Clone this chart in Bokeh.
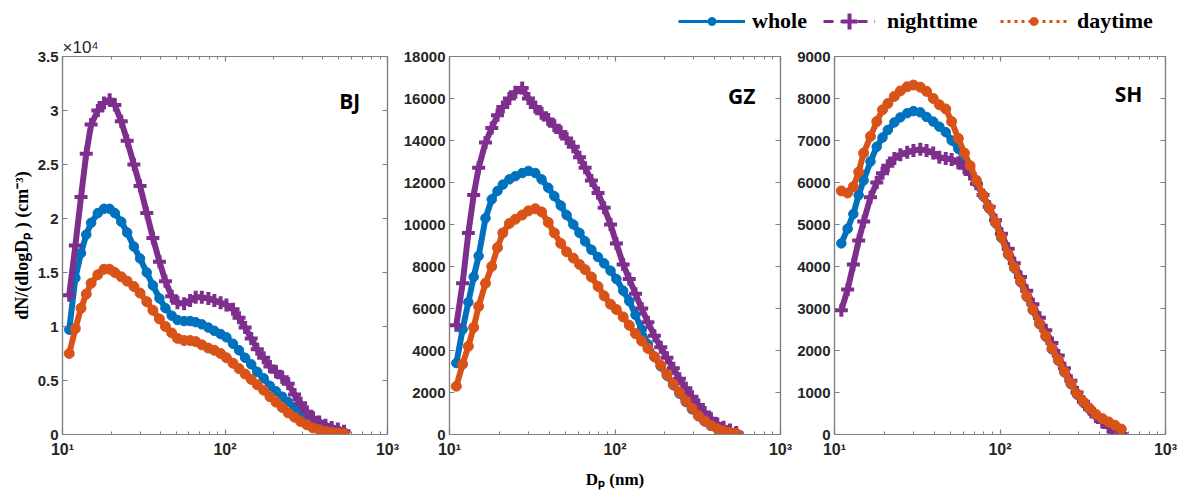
from bokeh.plotting import figure
from bokeh.layouts import column, row
from bokeh.models import (Range1d, FixedTicker, LinearAxis, LogAxis, Label,
                          Legend, LegendItem, ColumnDataSource, CustomJSTickFormatter)
from bokeh.embed import file_html
from bokeh.resources import INLINE

# ---------------- data ----------------
dp_nm = [11, 12, 13, 14, 15, 16.5, 18, 19.5, 21, 23, 25, 27.5, 30, 33, 36, 39.5, 43, 47, 51, 56,
         61, 66, 72, 79, 86, 94, 102, 112, 122, 133, 145, 158, 173, 189, 206, 225, 245, 268, 292, 319,
         348, 380, 415, 453, 495, 540]

# Beijing, in units of 1e4 cm^-3
bj_whole_e4 = [0.97, 1.45, 1.68, 1.85, 1.96, 2.05, 2.09, 2.09, 2.05, 1.97,
               1.87, 1.74, 1.63, 1.50, 1.38, 1.26, 1.17, 1.10, 1.06, 1.05,
               1.05, 1.04, 1.02, 0.99, 0.96, 0.93, 0.90, 0.84, 0.78, 0.71,
               0.65, 0.58, 0.52, 0.45, 0.40, 0.35, 0.30, 0.25, 0.21, 0.17,
               0.13, 0.10, 0.07, 0.05, 0.035, 0.02]
bj_night_e4 = [1.29, 1.75, 2.20, 2.60, 2.87, 3.00, 3.07, 3.10, 3.05, 2.90,
               2.72, 2.50, 2.30, 2.05, 1.82, 1.60, 1.42, 1.28, 1.22, 1.21,
               1.24, 1.27, 1.27, 1.26, 1.24, 1.22, 1.20, 1.16, 1.08, 0.99,
               0.89, 0.79, 0.71, 0.63, 0.58, 0.53, 0.47, 0.37, 0.29, 0.21,
               0.155, 0.115, 0.085, 0.065, 0.05, 0.03]
bj_day_e4 = [0.75, 0.98, 1.17, 1.30, 1.40, 1.48, 1.53, 1.53, 1.50, 1.46,
             1.42, 1.37, 1.31, 1.23, 1.15, 1.07, 1.00, 0.94, 0.89, 0.87,
             0.87, 0.86, 0.83, 0.80, 0.78, 0.75, 0.71, 0.66, 0.61, 0.56,
             0.51, 0.46, 0.41, 0.35, 0.30, 0.25, 0.20, 0.16, 0.12, 0.09,
             0.06, 0.045, 0.03, 0.02, 0.015, 0.01]

# Guangzhou, cm^-3
gz_whole = [3400, 5000, 6300, 7500, 8500, 10300, 11200, 11600, 11900, 12150,
            12300, 12450, 12550, 12450, 12150, 11750, 11350, 10900, 10450, 10000,
            9600, 9200, 8800, 8450, 8150, 7800, 7400, 6850, 6350, 5700,
            5000, 4300, 3700, 3250, 2800, 2350, 1950, 1550, 1200, 870,
            620, 410, 265, 160, 90, 40]
gz_night = [5200, 7200, 9600, 11400, 12700, 13900, 14600, 15200, 15600, 16000,
            16300, 16500, 16000, 15600, 15300, 15000, 14700, 14400, 14100, 13700,
            13200, 12700, 12100, 11500, 10800, 10000, 9100, 8100, 7400, 6700,
            6000, 5350, 4700, 4150, 3650, 3150, 2650, 2200, 1800, 1400,
            1050, 750, 500, 350, 220, 100]
gz_day = [2300, 3350, 4200, 5100, 6100, 7200, 8000, 8900, 9600, 10050,
          10250, 10450, 10650, 10750, 10600, 10100, 9600, 9100, 8700, 8400,
          8100, 7850, 7500, 7050, 6600, 6200, 5950, 5600, 5200, 4800,
          4450, 4100, 3700, 3300, 2850, 2400, 2000, 1600, 1250, 900,
          650, 430, 280, 170, 100, 50]

# Shanghai, cm^-3
sh_whole = [4550, 4900, 5250, 5700, 6050, 6500, 6850, 7070, 7250, 7430,
            7550, 7650, 7700, 7670, 7560, 7450, 7330, 7200, 7000, 6800,
            6550, 6300, 6000, 5680, 5380, 5030, 4680, 4280, 3960, 3630,
            3280, 2960, 2630, 2330, 2030, 1760, 1480, 1200, 950, 760,
            600, 460, 360, 280, 200, 110]
sh_night = [2960, 3450, 4050, 4620, 5070, 5650, 6000, 6220, 6400, 6570,
            6660, 6720, 6760, 6790, 6760, 6700, 6600, 6570, 6550, 6470,
            6350, 6200, 5970, 5700, 5420, 5100, 4780, 4420, 4080, 3750,
            3420, 3100, 2780, 2480, 2180, 1880, 1580, 1280, 1000, 780,
            600, 430, 300, 180, 60, 10]
sh_day = [5800, 5750, 5900, 6250, 6700, 7100, 7450, 7730, 7880, 8050,
          8180, 8280, 8320, 8270, 8170, 8000, 7850, 7750, 7450, 7050,
          6700, 6400, 6050, 5700, 5400, 5050, 4700, 4300, 3980, 3650,
          3300, 2980, 2650, 2350, 2050, 1780, 1500, 1220, 970, 780,
          620, 480, 380, 300, 220, 130]

series_names = ["whole", "nighttime", "daytime"]
site_names = ["BJ", "GZ", "SH"]
bj_yticks = [0, 0.5, 1, 1.5, 2, 2.5, 3, 3.5]
gz_yticks = [0, 2000, 4000, 6000, 8000, 10000, 12000, 14000, 16000, 18000]
sh_yticks = [0, 1000, 2000, 3000, 4000, 5000, 6000, 7000, 8000, 9000]
x_major_ticks = [10, 100, 1000]
x_minor_ticks = [20, 30, 40, 50, 60, 70, 80, 90, 200, 300, 400, 500, 600, 700, 800, 900]
x_tick_labels = {10: "10¹", 100: "10²", 1000: "10³"}

# ---------------- style ----------------
C_WHOLE = "#0072BD"
C_NIGHT = "#7E2F8E"
C_DAY = "#D95319"
GRAY = "#808080"
TXT = "#262626"
SANS = "Liberation Sans"
SERIF = "Liberation Serif"
STRIP_H = 35
PANEL_H = 491 - STRIP_H
TOP_B = 55 - STRIP_H
BOTTOM_B = PANEL_H - TOP_B - 380


def style_axis(ax, labels=True):
    ax.axis_line_color = GRAY
    ax.axis_line_width = 1.2
    ax.major_tick_line_color = GRAY
    ax.minor_tick_line_color = GRAY
    ax.major_tick_line_width = 1.2
    ax.minor_tick_line_width = 1
    ax.major_tick_in = 5
    ax.major_tick_out = 0
    ax.minor_tick_in = 3
    ax.minor_tick_out = 0
    ax.major_label_text_font = SANS
    ax.major_label_text_font_style = "bold"
    ax.major_label_text_font_size = "15px"
    ax.major_label_text_color = TXT
    if not labels:
        ax.formatter = CustomJSTickFormatter(code="return ''")
        ax.major_label_standoff = 0
        ax.major_label_text_font_size = "0px"


def make_panel(width, left, right, y_max, yticks, whole, night, day, site, site_x, site_y,
               yfmt=None):
    p = figure(width=width, height=PANEL_H, x_axis_type="log",
               x_range=Range1d(10, 1000), y_range=Range1d(0, y_max),
               toolbar_location=None, output_backend="svg",
               min_border_left=left, min_border_right=right,
               min_border_top=TOP_B, min_border_bottom=BOTTOM_B)
    p.xgrid.visible = False
    p.ygrid.visible = False
    p.outline_line_color = GRAY
    p.outline_line_width = 1.2
    p.background_fill_color = "white"
    p.border_fill_color = "white"

    xa = p.xaxis[0]
    xa.ticker = FixedTicker(ticks=x_major_ticks, minor_ticks=x_minor_ticks)
    xa.major_label_overrides = dict(x_tick_labels)
    style_axis(xa)
    xa.major_label_standoff = 6
    xa.major_label_text_font_size = "16px"

    ya = p.yaxis[0]
    ya.ticker = FixedTicker(ticks=yticks)
    if yfmt is not None:
        ya.formatter = yfmt
    style_axis(ya)
    ya.major_label_standoff = 4

    top = LogAxis(ticker=FixedTicker(ticks=x_major_ticks, minor_ticks=x_minor_ticks))
    style_axis(top, labels=False)
    p.add_layout(top, "above")
    rgt = LinearAxis(ticker=FixedTicker(ticks=yticks))
    style_axis(rgt, labels=False)
    p.add_layout(rgt, "right")

    for vals, color, marker, size, lw in [
            (whole, C_WHOLE, "circle", 9.5, 1),
            (night, C_NIGHT, "cross", 13, 4),
            (day, C_DAY, "circle", 10, 1)]:
        src = ColumnDataSource(data=dict(dp=dp_nm, v=vals))
        # the connecting line lies under the dense markers, as in the original
        p.line("dp", "v", source=src, line_color=color, line_width=6)
        if marker == "cross":
            p.scatter("dp", "v", source=src, marker=marker, size=size,
                      line_color=color, line_width=lw)
        else:
            p.scatter("dp", "v", source=src, marker=marker, size=size,
                      fill_color=color, line_color=color, line_width=lw)

    p.add_layout(Label(x=site_x, y=site_y, text=site, text_align="right",
                       text_baseline="alphabetic", text_font="Open Sans",
                       text_font_style="bold", text_font_size="21px", text_color="black"))
    return p, xa, ya


bj_fmt = CustomJSTickFormatter(code="return String(tick)")
p1, x1, y1 = make_panel(400, 62, 13, 3.5, bj_yticks, bj_whole_e4, bj_night_e4, bj_day_e4,
                        site_names[0], 680, 3.09, yfmt=bj_fmt)
p2, x2, y2 = make_panel(394, 48, 14, 18000, gz_yticks, gz_whole, gz_night, gz_day,
                        site_names[1], 705, 16100)
p3, x3, y3 = make_panel(384, 39, 13, 9000, sh_yticks, sh_whole, sh_night, sh_day,
                        site_names[2], 725, 8100)

# exponent marker of the BJ axis
p1.title.text = "×10⁴"
p1.title.align = "left"
p1.title.offset = 0
p1.title.standoff = 0
p1.title.text_font = SANS
p1.title.text_font_style = "normal"
p1.title.text_font_size = "17px"
p1.title.text_color = TXT

# axis titles
y1.axis_label = "dN/(dlogDₚ ) (cm⁻³)"
y1.axis_label_standoff = 3
y1.axis_label_text_font = SERIF
y1.axis_label_text_font_style = "bold"
y1.axis_label_text_font_size = "18px"
y1.axis_label_text_color = "black"

x2.axis_label = "Dₚ (nm)"
x2.axis_label_standoff = 9
x2.axis_label_text_font = SERIF
x2.axis_label_text_font_style = "bold"
x2.axis_label_text_font_size = "17px"
x2.axis_label_text_color = "black"

# ---------------- legend strip ----------------
lf = figure(width=1178, height=STRIP_H, x_range=Range1d(0, 1), y_range=Range1d(0, 1),
            toolbar_location=None, output_backend="svg", min_border=0,
            x_axis_location=None, y_axis_location=None, outline_line_color=None)
lf.grid.visible = False


def legend_pair(vals, color, dash, marker, msize, mlw):
    src = ColumnDataSource(data=dict(dp=dp_nm, v=vals))
    r_line = lf.line("dp", "v", source=src, line_color=color, line_width=3, line_dash=dash)
    if marker == "cross":
        r_mark = lf.scatter("dp", "v", source=src, marker=marker, size=msize,
                            line_color=color, line_width=mlw)
    else:
        r_mark = lf.scatter("dp", "v", source=src, marker=marker, size=msize,
                            fill_color=color, line_color=color, line_width=mlw)
    r_line.visible = False
    r_mark.visible = False
    return [r_line, r_mark]


leg_whole = legend_pair(sh_whole, C_WHOLE, "solid", "circle", 8, 1)
leg_night = legend_pair(sh_night, C_NIGHT, "10 7", "cross", 16, 4)
leg_day = legend_pair(sh_day, C_DAY, "3 4", "circle", 8, 1)

for label, rends, x0, y0, gw, gh, standoff in [
        (series_names[0], leg_whole, 678, 1, 67, 20, 7),
        (series_names[1], leg_night, 823, -6, 52, 40, 12),
        (series_names[2], leg_day, 1000, 1, 67, 20, 10)]:
    leg = Legend(items=[LegendItem(label=label, renderers=rends)], location=(x0, y0),
                 orientation="horizontal", glyph_width=gw, glyph_height=gh,
                 label_standoff=standoff, padding=0, margin=0, spacing=0,
                 border_line_color=None, background_fill_alpha=0,
                 inactive_fill_alpha=0,
                 label_text_font=SERIF, label_text_font_style="bold",
                 label_text_font_size="22px", label_text_color="black")
    lf.add_layout(leg)

layout = column(lf, row(p1, p2, p3, spacing=0), spacing=0)

open("out.html", "w").write(file_html(layout, INLINE))
